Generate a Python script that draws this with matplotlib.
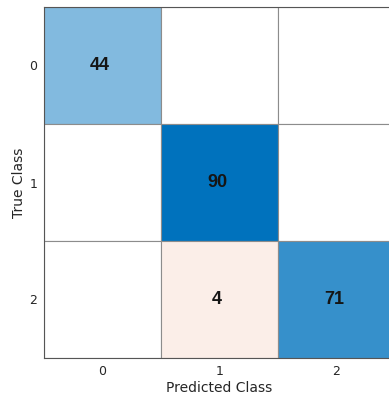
import matplotlib
matplotlib.use("Agg")
import matplotlib.pyplot as plt
import numpy as np

classes = ["0", "1", "2"]
counts = np.array([[44, 0, 0],
                   [0, 90, 0],
                   [0, 4, 71]])

diag_rgb = np.array([0, 114, 189]) / 255.0
off_rgb = np.array([217, 83, 25]) / 255.0

fig = plt.figure(figsize=(3.89, 3.96), dpi=100)
ax = fig.add_axes([44/389, 38/396, 351/389, 351/396])

n = len(classes)
vmax = counts.max()
for i in range(n):
    for j in range(n):
        v = counts[i, j]
        if v == 0:
            color = (1, 1, 1)
        elif i == j:
            f = v / vmax
            color = tuple(1 - (1 - diag_rgb) * f)
        else:
            f = min(1.0, v / 40)
            color = tuple(1 - (1 - off_rgb) * f)
        ax.add_patch(plt.Rectangle((j - 0.5, i - 0.5), 1, 1, facecolor=color,
                                   edgecolor="#8c8c8c", linewidth=0.8))
        if v != 0:
            ax.text(j - 0.02, i, str(v), ha="center", va="center", fontsize=13,
                    fontweight="bold", color="#151515",
                    family=["Liberation Sans", "DejaVu Sans"])

ax.set_xlim(-0.5, n - 0.5)
ax.set_ylim(n - 0.5, -0.5)
ax.set_xticks(range(n))
ax.set_yticks(range(n))
ax.set_xticklabels(classes, fontsize=9, color="#262626")
ax.set_yticklabels(classes, fontsize=9, color="#262626")
ax.tick_params(length=0, pad=5)
ax.set_xlabel("Predicted Class", fontsize=10, color="#262626", labelpad=2)
ax.set_ylabel("True Class", fontsize=10, color="#262626", labelpad=2)
for s in ax.spines.values():
    s.set_color("#555555")
    s.set_linewidth(0.8)

fig.savefig("out.png", dpi=100)
